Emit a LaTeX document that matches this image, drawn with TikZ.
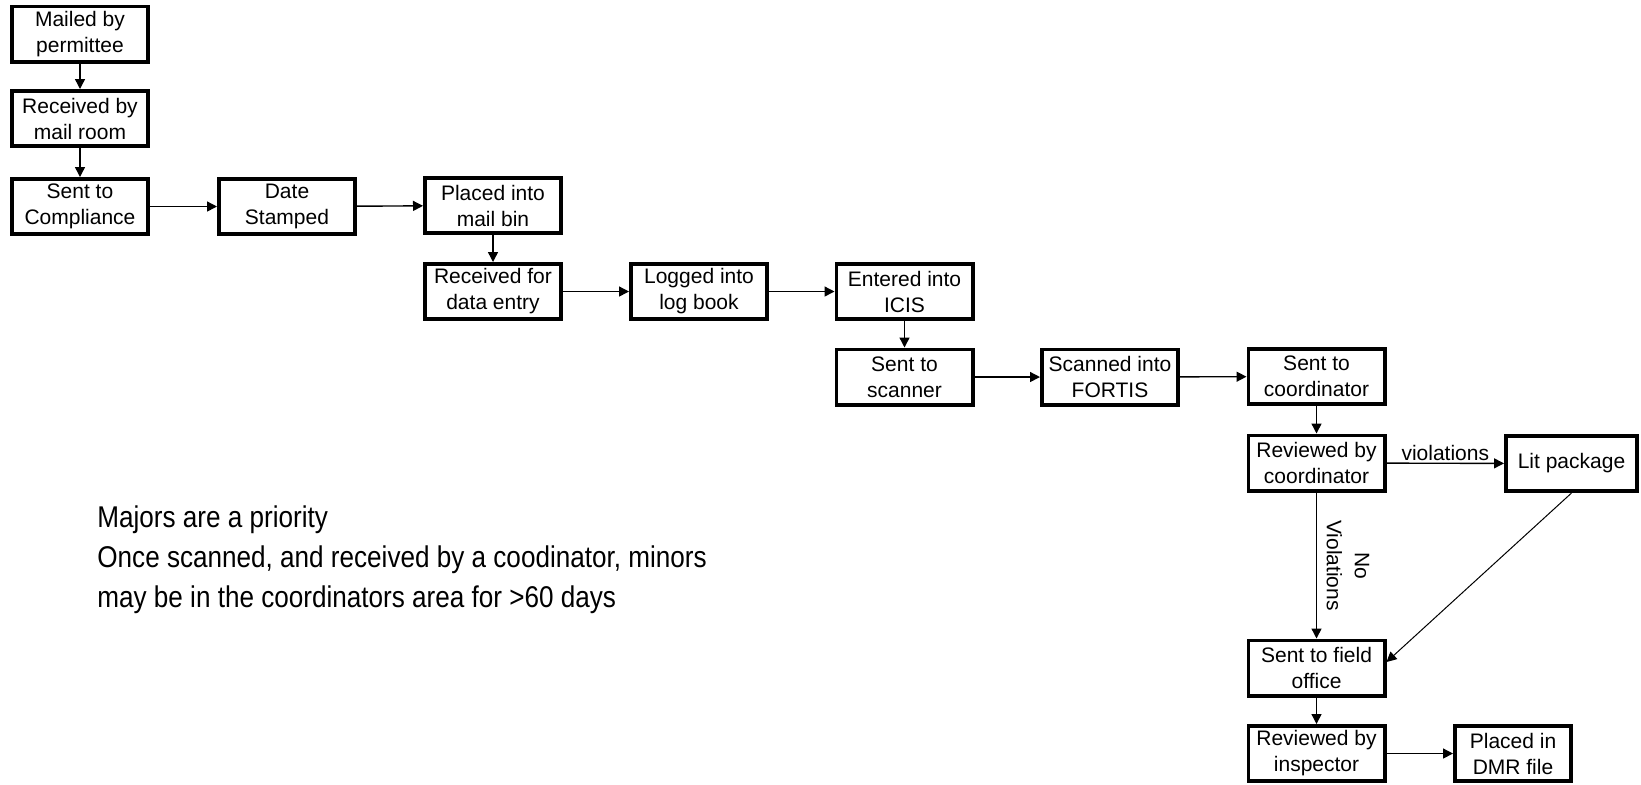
\documentclass[tikz,border=0pt]{standalone}
\usepackage{fontspec}
\setmainfont{Liberation Sans}
\newfontfamily\notefont[FakeStretch=0.87]{Liberation Sans}
\usetikzlibrary{arrows.meta}

\begin{document}
\begin{tikzpicture}[x=0.5pt, y=-0.5pt,
		stepbox/.style={draw, line width=1.8pt, minimum width=68.2pt, minimum height=27.7pt, inner sep=1pt, align=center, font=\fontsize{10.5}{13}\selectfont},
		flow/.style={-{Triangle[length=5pt,width=5pt]}, line width=0.7pt}]
		% Page size.
		\useasboundingbox (0,0) rectangle (1641,784);
		
		% Draw boxes.
		\node[stepbox] (mailed) at (80,34) {Mailed by\\permittee};
		\node[stepbox] (mailroom) at (80,118.5) {Received by\\mail room};
		\node[stepbox] (compliance) at (80,206.5) {Sent to\\Compliance};
		\node[stepbox] (stamped) at (287,206.5) {Date\\Stamped};
		\node[stepbox] (mailbin) at (493,205.5) {Placed into\\mail bin};
		\node[stepbox] (dataentry) at (493,291.5) {Received for\\data entry};
		\node[stepbox] (logbook) at (699,291.5) {Logged into\\log book};
		\node[stepbox] (icis) at (904.5,291.5) {Entered into\\ICIS};
		\node[stepbox] (scanner) at (904.5,377) {Sent to\\scanner};
		\node[stepbox] (fortis) at (1110,377) {Scanned into\\FORTIS};
		\node[stepbox] (sendcoord) at (1316.5,376.5) {Sent to\\coordinator};
		\node[stepbox] (reviewcoord) at (1316.5,463) {Reviewed by\\coordinator};
		\node[stepbox, minimum width=65.7pt] (litpkg) at (1571.5,463.5) {Lit package};
		\node[stepbox] (fieldoffice) at (1316.5,668) {Sent to field\\office};
		\node[stepbox] (inspector) at (1316.5,753.5) {Reviewed by\\inspector};
		\node[stepbox, minimum width=58.2pt] (dmr) at (1513,753.5) {Placed in\\DMR file};
		
		% Draw arrows.
		\draw[flow] (mailed) -- (mailroom);
		\draw[flow] (mailroom) -- (compliance);
		\draw[flow] (compliance) -- (stamped);
		\draw[flow] (stamped) -- (mailbin);
		\draw[flow] (mailbin) -- (dataentry);
		\draw[flow] (dataentry) -- (logbook);
		\draw[flow] (logbook) -- (icis);
		\draw[flow] (icis) -- (scanner);
		\draw[flow] (scanner) -- (fortis);
		\draw[flow] (fortis) -- (sendcoord);
		\draw[flow] (sendcoord) -- (reviewcoord);
		\draw[flow] (reviewcoord) -- node[above, inner sep=1pt, font=\fontsize{10.5}{13}\selectfont] {violations} (litpkg);
		\draw[flow] (reviewcoord) -- node[midway, xshift=15.75pt, rotate=-90, align=center, inner sep=0pt, font=\fontsize{10.5}{14}\selectfont] {No\\Violations} (fieldoffice);
		\draw[flow, line width=0.5pt] (litpkg.south) -- ([yshift=3pt]fieldoffice.east);
		\draw[flow] (fieldoffice) -- (inspector);
		\draw[flow] (inspector) -- (dmr);
		
		% Notes.
		\node[anchor=west, align=left, inner sep=0pt, font=\notefont\fontsize{15}{20}\selectfont] (notes) at (97,560) {Majors are a priority\\Once scanned, and received by a coodinator, minors\\may be in the coordinators area for >60 days};
	\end{tikzpicture}
\end{document}
